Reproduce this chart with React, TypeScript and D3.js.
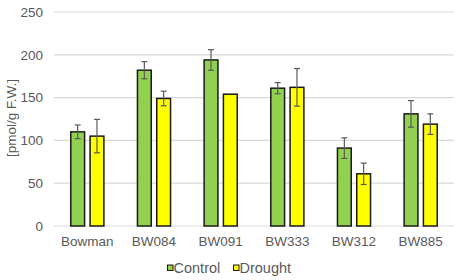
import React from "react";
import * as d3 from "d3";

const categories = ["Bowman", "BW084", "BW091", "BW333", "BW312", "BW885"];
const seriesNames = ["Control", "Drought"];
const controlValues = [110, 182, 194, 161, 91, 131];
const controlErrors = [8, 10, 12, 6.5, 12, 15.5];
const droughtValues = [105, 149, 154, 162, 61, 119];
const droughtErrors = [19.5, 8.5, 0, 22, 12.5, 12];
const yTicks = [0, 50, 100, 150, 200, 250];
const seriesColors = ["#92d050", "#ffff00"];

const W = 459;
const H = 280;
const FONT = "'Liberation Sans', Arial, sans-serif";
const TEXT = "#595959";

export default function App() {
  const x = d3.scaleBand<string>().domain(categories).range([54, 454]).padding(0);
  const bw = x.bandwidth();
  const xs = d3
    .scaleBand<string>()
    .domain(seriesNames)
    .range([bw / 2 - 17.3, bw / 2 + 17.3])
    .paddingInner(0.207)
    .paddingOuter(0);
  const y = d3.scaleLinear().domain([0, 250]).range([226, 12]);

  const series = [
    { name: seriesNames[0], values: controlValues, errors: controlErrors, color: seriesColors[0] },
    { name: seriesNames[1], values: droughtValues, errors: droughtErrors, color: seriesColors[1] },
  ];
  const sw = 1.5;
  const legendX = [167, 233];

  return (
    <svg
      width={W}
      height={H}
      style={{ position: "absolute", left: 0, top: 0, background: "#fff" }}
      fontFamily={FONT}
    >
      {yTicks.map((t) => (
        <g key={t}>
          <line x1={54} x2={454} y1={y(t)} y2={y(t)} stroke="#d9d9d9" strokeWidth={1.2} />
          <text x={43} y={y(t)} dy="0.35em" textAnchor="end" fontSize={13.5} fill={TEXT}>
            {t}
          </text>
        </g>
      ))}
      <text
        transform={`translate(16,${118}) rotate(-90)`}
        textAnchor="middle"
        fontSize={13.5}
        fill={TEXT}
      >
        [pmol/g F.W.]
      </text>
      {series.map((s) =>
        categories.map((c, i) => {
          const bx = (x(c) ?? 0) + (xs(s.name) ?? 0);
          const v = s.values[i];
          const e = s.errors[i];
          const cx = bx + xs.bandwidth() / 2;
          return (
            <g key={s.name + c}>
              <rect
                x={bx + sw / 2}
                y={y(v)}
                width={xs.bandwidth() - sw}
                height={y(0) - y(v)}
                fill={s.color}
                stroke="#1a1a1a"
                strokeWidth={sw}
              />
              {e > 0 && (
                <g stroke="#5a5a5a" strokeWidth={1.2}>
                  <line x1={cx} x2={cx} y1={y(v + e)} y2={y(v - e)} />
                  <line x1={cx - 3} x2={cx + 3} y1={y(v + e)} y2={y(v + e)} />
                  <line x1={cx - 3} x2={cx + 3} y1={y(v - e)} y2={y(v - e)} />
                </g>
              )}
            </g>
          );
        })
      )}
      {categories.map((c) => (
        <text
          key={c}
          x={(x(c) ?? 0) + bw / 2}
          y={246}
          textAnchor="middle"
          fontSize={13.5}
          fill={TEXT}
        >
          {c}
        </text>
      ))}
      {series.map((s, i) => (
        <g key={s.name}>
          <rect
            x={legendX[i] + 0.5}
            y={265}
            width={5.5}
            height={5.5}
            fill={s.color}
            stroke="#1a1a1a"
            strokeWidth={1}
          />
          <text x={legendX[i] + 6.5} y={272.5} fontSize={14.5} fill={TEXT}>
            {s.name}
          </text>
        </g>
      ))}
    </svg>
  );
}
